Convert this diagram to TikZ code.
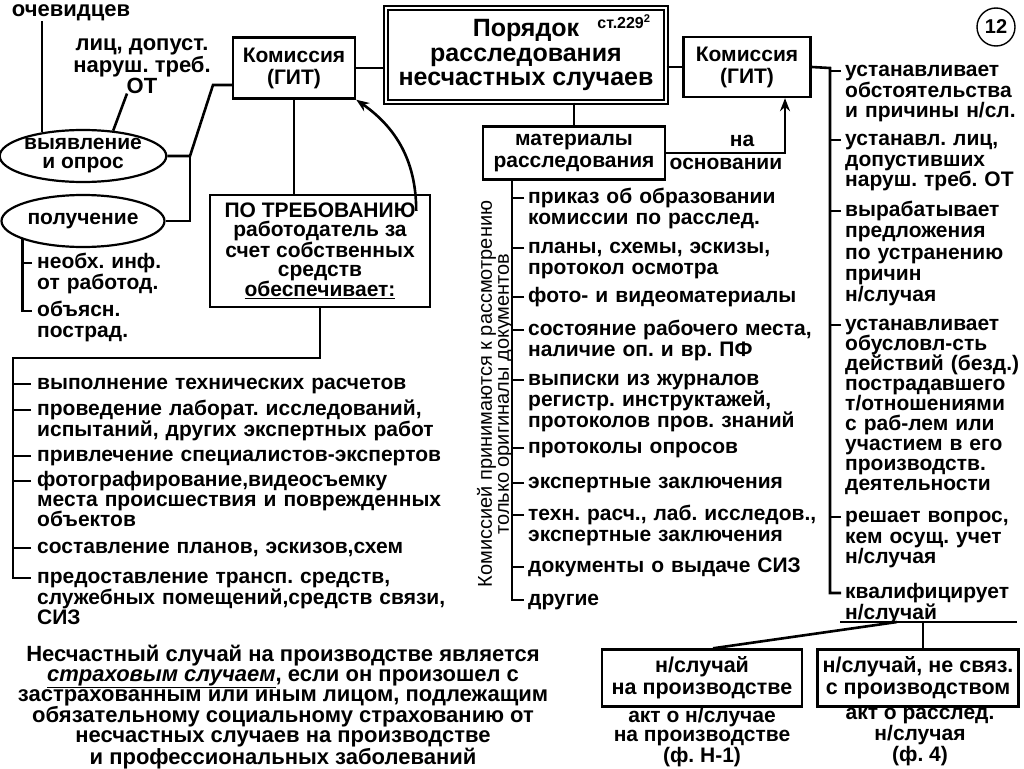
\documentclass[tikz,border=0pt]{standalone}
\usepackage{fontspec}
\setmainfont{Liberation Sans}
\usetikzlibrary{arrows.meta,positioning,shapes.geometric}
\frenchspacing

\begin{document}
\begin{tikzpicture}[x=1pt,y=-1pt]
	\tikzstyle{box} = [rectangle, draw=black, line width=2.4pt, align=center, inner sep=0pt,
	font=\bfseries\fontsize{21}{22}\selectfont]
	\tikzstyle{oval} = [ellipse, draw=black, line width=2.2pt, minimum width=163pt,
	minimum height=52pt, inner sep=0pt, align=center, font=\bfseries\fontsize{21}{19}\selectfont]
	\tikzstyle{listitem} = [anchor=north west, inner sep=0pt, align=left, text width=440pt,
	font=\bfseries\fontsize{21}{20.5}\selectfont, execute at begin node=\rule{0pt}{17pt}]
	\tikzstyle{note} = [inner sep=0pt, align=center, font=\bfseries\fontsize{21}{20}\selectfont]
	\tikzstyle{wire} = [line width=2.6pt]
	\tikzstyle{arrow} = [line width=2.6pt, -{Stealth[length=13pt,width=10pt]}]
	\useasboundingbox (0,0) rectangle (1024,768);
	% top row
	\node (main) [box, double, double distance=2.5pt, line width=1.3pt, minimum width=280pt,
	minimum height=94pt, font=\bfseries\fontsize{25}{24.5}\selectfont] at (526,55)
	{Порядок\\расследования\\несчастных случаев};
	\node (art) [note, font=\bfseries\fontsize{16}{16}\selectfont] at (624,22) {ст.229\textsuperscript{2}};
	\node (gitL) [box, minimum width=122pt, minimum height=61pt] at (294,68) {Комиссия\\(ГИТ)};
	\node (gitR) [box, minimum width=127pt, minimum height=60pt] at (747,67) {Комиссия\\(ГИТ)};
	\node (mat) [box, minimum width=182pt, minimum height=53pt] at (574,153) {материалы\\расследования};
	\node (na) [note] at (742,141) {на};
	\node (osn) [note] at (726,164) {основании};
	\node (num) [circle, draw, line width=1.4pt, minimum size=38pt, inner sep=0pt,
	font=\bfseries\fontsize{20}{20}\selectfont] at (996,27) {12};
	% left side
	\node (ochev) [note, font=\bfseries\fontsize{22}{22}\selectfont] at (71,13) {очевидцев};
	\node (lica) [note, font=\bfseries\fontsize{22}{17}\selectfont] at (142,66) {лиц, допуст.\\наруш. треб.\\ОТ};
	\node (vyyav) [oval] at (83,156) {выявление\\и опрос};
	\node (poluch) [oval] at (83,221) {получение};
	\node (p1) [listitem] at (37,251.5) {необх. инф.\\от работод.};
	\node (p2) [listitem] at (37,299.5) {объясн.\\пострад.};
	\node (req) [box, minimum width=220pt, minimum height=112pt, font=\bfseries\fontsize{21}{19}\selectfont]
	at (320,251) {ПО ТРЕБОВАНИЮ\\работодатель за\\счет собственных\\средств\\\underline{обеспечивает:}};
	\coordinate (reqArc) at ([xshift=-15pt,yshift=-17pt]req.north east);
	\coordinate (jL) at (190,156);
	\coordinate (kink) at (213,85);
	\coordinate (spL) at (13,358);
	\node (l1) [listitem] at (37,372.5) {выполнение технических расчетов};
	\node (l2) [listitem] at (37,398.5) {проведение лаборат. исследований,\\испытаний, других экспертных работ};
	\node (l3) [listitem] at (37,444.5) {привлечение специалистов-экспертов};
	\node (l4) [listitem, font=\bfseries\fontsize{21}{19.5}\selectfont] at (37,469.5)
	{фотографирование,видеосъемку\\места происшествия и поврежденных\\объектов};
	\node (l5) [listitem] at (37,536.5) {составление планов, эскизов,схем};
	\node (l6) [listitem, font=\bfseries\fontsize{21}{18}\selectfont] at (37,566.5)
	{предоставление трансп. средств,\\служебных помещений,средств связи,\\СИЗ};
	% middle column
	\node (orig) [note, rotate=90, font=\fontsize{20}{17}\selectfont] at (495,394)
	{Комиссией принимаются к рассмотрению\\только оригиналы документов};
	\coordinate (spM) at ([xshift=30pt]mat.south west);
	\node (m1) [listitem] at (528,186.5) {приказ об образовании\\комиссии по расслед.};
	\node (m2) [listitem] at (528,236.5) {планы, схемы, эскизы,\\протокол осмотра};
	\node (m3) [listitem] at (528,285.5) {фото- и видеоматериалы};
	\node (m4) [listitem] at (528,318.5) {состояние рабочего места,\\наличие оп. и вр. ПФ};
	\node (m5) [listitem, font=\bfseries\fontsize{21}{19}\selectfont] at (528,368.5)
	{выписки из журналов\\регистр. инструктажей,\\протоколов пров. знаний};
	\node (m6) [listitem] at (528,436.5) {протоколы опросов};
	\node (m7) [listitem] at (528,471.5) {экспертные заключения};
	\node (m8) [listitem] at (528,503.5) {техн. расч., лаб. исследов.,\\экспертные заключения};
	\node (m9) [listitem] at (528,555.5) {документы о выдаче СИЗ};
	\node (m10) [listitem] at (528,588.5) {другие};
	% right column
	\coordinate (spR) at (830,68);
	\node (r1) [listitem] at (845,59.5) {устанавливает\\обстоятельства\\и причины н/сл.};
	\node (r2) [listitem] at (845,128.5) {устанавл. лиц,\\допустивших\\наруш. треб. ОТ};
	\node (r3) [listitem, font=\bfseries\fontsize{21}{21.2}\selectfont] at (845,199.5)
	{вырабатывает\\предложения\\по устранению\\причин\\н/случая};
	\node (r4) [listitem, font=\bfseries\fontsize{21}{20}\selectfont] at (845,313.5)
	{устанавливает\\обусловл-сть\\действий (безд.)\\пострадавшего\\т/отношениями\\с раб-лем или\\участием в его\\производств.\\деятельности};
	\node (r5) [listitem] at (845,505.5) {решает вопрос,\\кем осущ. учет\\н/случая};
	\node (r6) [listitem, font=\bfseries\fontsize{21}{19}\selectfont] at (845,581.5) {квалифицирует\\н/случай};
	\coordinate (kl) at (840,622);
	\coordinate (kr) at (1017,622);
	\coordinate (fork) at (897,622);
	% bottom
	\node (nc1) [box, minimum width=200pt, minimum height=57pt, font=\bfseries\fontsize{21.5}{22}\selectfont]
	at (702,678) {н/случай\\на производстве};
	\node (nc2) [box, minimum width=201pt, minimum height=57pt, font=\bfseries\fontsize{21.5}{22}\selectfont]
	at (918,678) {н/случай, не связ.\\с производством};
	\node (akt1) [note, font=\bfseries\fontsize{21}{19.2}\selectfont] at (702,737) {акт о н/случае\\на производстве\\(ф. Н-1)};
	\node (akt2) [note, font=\bfseries\fontsize{21}{19.2}\selectfont] at (920,737) {акт о расслед.\\н/случая\\(ф. 4)};
	\node (insur) [note, font=\bfseries\fontsize{22}{20}\selectfont] at (283,707)
	{Несчастный случай на производстве является\\\underline{\textit{страховым случаем}}, если он произошел с\\застрахованным или иным лицом, подлежащим\\обязательному социальному страхованию от\\несчастных случаев на производстве\\и профессиональных заболеваний};
	% connectors
	\draw [wire] (gitL.east) -- (gitL.east -| main.west);
	\draw [wire] (main.east |- gitR.west) -- (gitR.west);
	\draw [wire] (main.south -| mat.north) -- (mat.north);
	\draw [arrow] (mat.east) -| ([xshift=38pt]gitR.south);
	\draw [wire] (gitL.south) -- (gitL.south |- req.north);
	\draw [arrow] (reqArc) to[out=90, in=-35] (gitL.south east);
	\draw [wire] (vyyav.east) -- (jL) -- (kink) -- (kink -| gitL.west);
	\draw [wire] (jL) |- (poluch.east);
	\draw [wire] (vyyav.150) -- (vyyav.150 |- ochev.south);
	\draw [wire] (vyyav.40) -- ([xshift=-15pt]lica.south);
	\draw [wire] (p1.north west) ++(-5pt,-11.5pt) coordinate (tp1) -- (tp1 -| poluch.197);
	\draw [wire] (p2.north west) ++(-5pt,-11.5pt) coordinate (tp2);
	\draw [wire] (poluch.197) |- (tp2);
	\draw [wire] (l6.north west) ++(-6pt,-11.5pt) coordinate (tl6);
	\draw [wire] (req.south) |- (spL) |- (tl6);
	\draw [wire] (l1.north west) ++(-6pt,-11.5pt) coordinate (tl1) -- (tl1 -| spL);
	\draw [wire] (l2.north west) ++(-6pt,-11.5pt) coordinate (tl2) -- (tl2 -| spL);
	\draw [wire] (l3.north west) ++(-6pt,-11.5pt) coordinate (tl3) -- (tl3 -| spL);
	\draw [wire] (l4.north west) ++(-6pt,-11.5pt) coordinate (tl4) -- (tl4 -| spL);
	\draw [wire] (l5.north west) ++(-6pt,-11.5pt) coordinate (tl5) -- (tl5 -| spL);
	\draw [wire] (m10.north west) ++(-4pt,-11.5pt) coordinate (tm10);
	\draw [wire] (spM) |- (tm10);
	\draw [wire] (m1.north west) ++(-4pt,-11.5pt) coordinate (tm1) -- (tm1 -| spM);
	\draw [wire] (m2.north west) ++(-4pt,-11.5pt) coordinate (tm2) -- (tm2 -| spM);
	\draw [wire] (m3.north west) ++(-4pt,-11.5pt) coordinate (tm3) -- (tm3 -| spM);
	\draw [wire] (m4.north west) ++(-4pt,-11.5pt) coordinate (tm4) -- (tm4 -| spM);
	\draw [wire] (m5.north west) ++(-4pt,-11.5pt) coordinate (tm5) -- (tm5 -| spM);
	\draw [wire] (m6.north west) ++(-4pt,-11.5pt) coordinate (tm6) -- (tm6 -| spM);
	\draw [wire] (m7.north west) ++(-4pt,-11.5pt) coordinate (tm7) -- (tm7 -| spM);
	\draw [wire] (m8.north west) ++(-4pt,-11.5pt) coordinate (tm8) -- (tm8 -| spM);
	\draw [wire] (m9.north west) ++(-4pt,-11.5pt) coordinate (tm9) -- (tm9 -| spM);
	\draw [wire] (r6.north west) ++(-4pt,-11.5pt) coordinate (tr6);
	\draw [wire] (gitR.east) -- (spR) |- (tr6);
	\draw [wire] (r1.north west) ++(-4pt,-11.5pt) coordinate (tr1) -- (tr1 -| spR);
	\draw [wire] (r2.north west) ++(-4pt,-11.5pt) coordinate (tr2) -- (tr2 -| spR);
	\draw [wire] (r3.north west) ++(-4pt,-11.5pt) coordinate (tr3) -- (tr3 -| spR);
	\draw [wire] (r4.north west) ++(-4pt,-11.5pt) coordinate (tr4) -- (tr4 -| spR);
	\draw [wire] (r5.north west) ++(-4pt,-11.5pt) coordinate (tr5) -- (tr5 -| spR);
	\draw [wire] (kl) -- (kr);
	\draw [wire] (fork) -- ([xshift=11pt]nc1.north);
	\draw [wire] ([xshift=5pt]nc2.north |- kl) -- ([xshift=5pt]nc2.north);
\end{tikzpicture}
\end{document}
